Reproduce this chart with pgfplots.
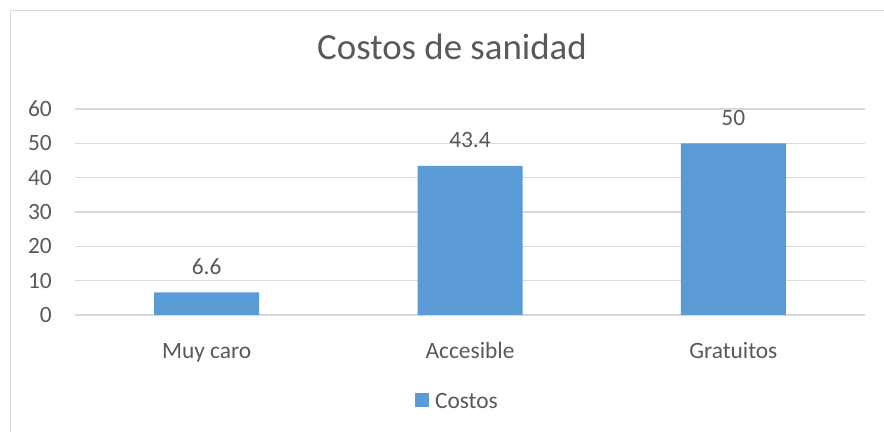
\documentclass[border=0pt]{standalone}
\usepackage{fontspec}
\setmainfont{Carlito}
\usepackage{pgfplots}
\pgfplotsset{compat=1.18}
\definecolor{barblue}{HTML}{5B9BD5}
\definecolor{txtgray}{HTML}{595959}
\definecolor{gridgray}{HTML}{D9D9D9}

\begin{document}
\begin{tikzpicture}
\begin{axis}[
    scale only axis,
    width=790bp, height=206bp,
    at={(75bp,117bp)}, anchor=south west,
    ybar, bar width=105bp,
    xmin=-0.5, xmax=2.5,
    ymin=0, ymax=60,
    xtick={0,1,2},
    xticklabels={Muy caro, Accesible, Gratuitos},
    ytick={0,10,...,60},
    axis line style={draw=none},
    major tick style={draw=none},
    ymajorgrids,
    grid style={gridgray, line width=1.3bp},
    font=\fontsize{23.5}{27}\selectfont,
    every tick label/.append style={text=txtgray, inner sep=0pt},
    /pgf/number format/assume math mode=true,
    yticklabel style={anchor=east, xshift=-23bp},
    xticklabel style={anchor=base, yshift=-39bp},
    nodes near coords,
    nodes near coords style={anchor=base, yshift=18bp, inner sep=0pt, text=txtgray, font=\fontsize{23.5}{27}\selectfont},
    title={Costos de sanidad},
    title style={at={(0.4772,1.2136)}, anchor=base, inner sep=0pt, text=txtgray, font=\fontsize{37}{40}\selectfont},
    legend style={at={(0.4304,-0.461)}, anchor=south west, draw=none, fill=none,
        inner sep=0pt, outer sep=0pt, text=txtgray,
        nodes={inner sep=0pt}, column sep=6bp},
    legend image code/.code={\fill[barblue] (0bp,-5.5bp) rectangle (14bp,8.5bp);},
]
\addplot[fill=barblue, draw=none] coordinates {(0,6.6) (1,43.4) (2,50)};
\addlegendentry{Costos}
\end{axis}
\draw[gridgray, line width=1.2bp] (10.7bp,0bp) |- (884bp,421.3bp);
\pgfresetboundingbox
\useasboundingbox (0bp,0bp) rectangle (884bp,432bp);
\end{tikzpicture}
\end{document}
